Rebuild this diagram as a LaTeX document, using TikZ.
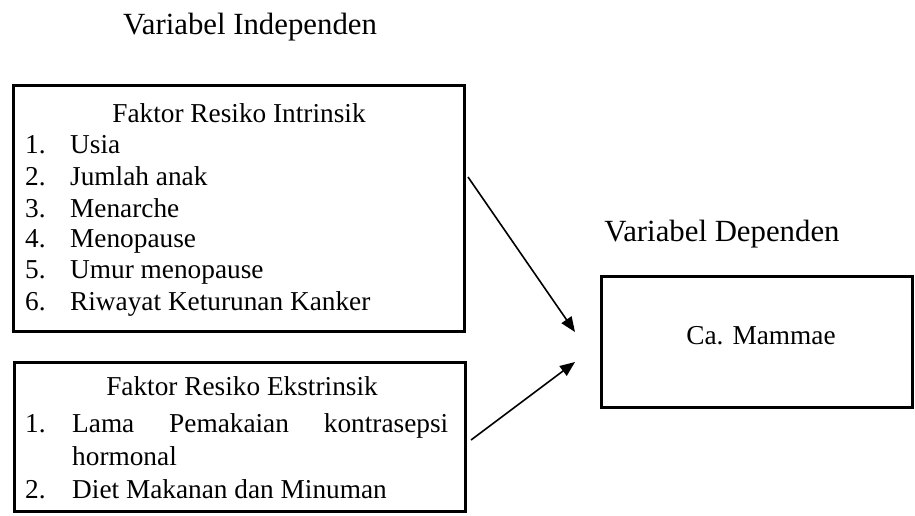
\documentclass[tikz,border=0pt]{standalone}
\usepackage{fontspec}
\setmainfont{Liberation Serif}
\usetikzlibrary{arrows.meta}
\begin{document}
\begin{tikzpicture}[x=1pt,y=-1pt,
  frame/.style={draw, line width=3pt, inner sep=0pt, outer sep=0pt},
  txt/.style={inner sep=0pt, anchor=base west, font=\fontsize{27.3}{31}\selectfont},
  ctxt/.style={inner sep=0pt, anchor=base, font=\fontsize{27.3}{31}\selectfont},
  htxt/.style={inner sep=0pt, anchor=base, font=\fontsize{30.8}{36}\selectfont},
  link/.style={line width=1.6pt, -{Triangle[length=15pt,width=12pt]}}]
\useasboundingbox (0,0) rectangle (915,515);
% boxes
\node[frame, minimum width=451pt, minimum height=246pt] (intr) at (238.75,208.5) {};
\node[frame, minimum width=451pt, minimum height=149pt] (ekst) at (239.5,436.5) {};
\node[frame, minimum width=311pt, minimum height=131pt] (dep) at (756.5,341.5) {};
% headings
\node[htxt] (hind) at (250,34) {Variabel Independen};
\node[htxt] (hdep) at (722,241) {Variabel Dependen};
\node[ctxt] (ca) at (761,344) {Ca. Mammae};
% intrinsic
\node[ctxt] (ti) at (239,122) {Faktor Resiko Intrinsik};
\node[txt] (n1) at (25,153) {1.}; \node[txt] (i1) at (70,153) {Usia};
\node[txt] (n2) at (25,185) {2.}; \node[txt] (i2) at (70,185) {Jumlah anak};
\node[txt] (n3) at (25,217) {3.}; \node[txt] (i3) at (70,217) {Menarche};
\node[txt] (n4) at (25,247) {4.}; \node[txt] (i4) at (70,247) {Menopause};
\node[txt] (n5) at (25,278) {5.}; \node[txt] (i5) at (70,278) {Umur menopause};
\node[txt] (n6) at (25,310) {6.}; \node[txt] (i6) at (70,310) {Riwayat Keturunan Kanker};
% extrinsic
\node[ctxt] (te) at (242,395) {Faktor Resiko Ekstrinsik};
\node[txt] (m1) at (25,432) {1.}; \node[txt] (e1) at (72,432) {\makebox[376pt][s]{Lama Pemakaian kontrasepsi}};
\node[txt] (e1b) at (72,465) {hormonal};
\node[txt] (m2) at (25,498) {2.}; \node[txt] (e2) at (72,498) {Diet Makanan dan Minuman};
% arrows
\coordinate (s1) at (468,177);
\coordinate (t1) at (575,332);
\coordinate (s2) at (471,440);
\coordinate (t2) at (575,362);
\draw[link] (s1) -- (t1);
\draw[link] (s2) -- (t2);
\end{tikzpicture}
\end{document}
